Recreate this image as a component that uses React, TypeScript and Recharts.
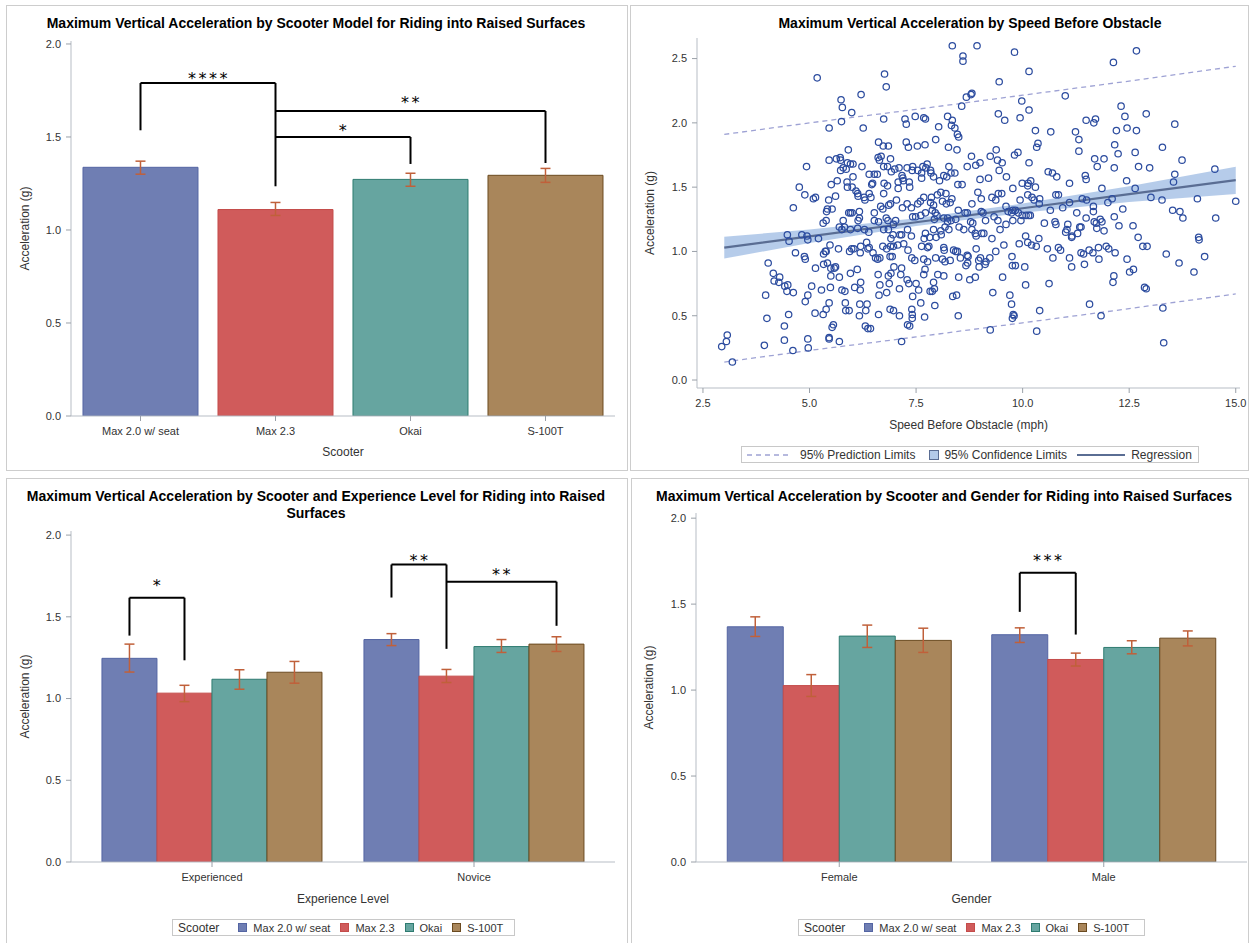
import React from "react";
import {
  BarChart,
  Bar,
  Cell,
  ComposedChart,
  XAxis,
  YAxis,
  Scatter,
  Line,
  Area,
  ErrorBar,
  ReferenceLine,
  ReferenceDot,
} from "recharts";

const FONT = '"Liberation Sans", Arial, sans-serif';
const AXIS = "#B7BDC5";
const TICK = "#9AA0A8";
const TEXT = "#333333";
const WHISKER = "#C0603A";

const scooters = ["Max 2.0 w/ seat", "Max 2.3", "Okai", "S-100T"];
const scooterFill = ["#6F7EB3", "#D05B5B", "#66A5A0", "#A9865B"];
const scooterEdge = ["#5465A3", "#C44C4A", "#2E7B70", "#6B4A20"];

const accelTicks = [0, 0.5, 1.0, 1.5, 2.0];

// mean max vertical acceleration per scooter, with 95% CI
const modelMean = [1.337, 1.11, 1.272, 1.294];
const modelLow = [1.3, 1.078, 1.235, 1.256];
const modelHigh = [1.37, 1.148, 1.305, 1.331];

const levels = ["Experienced", "Novice"];
const levelMean = [
  [1.246, 1.033, 1.118, 1.161],
  [1.361, 1.137, 1.318, 1.333],
];
const levelLow = [
  [1.162, 0.981, 1.057, 1.094],
  [1.324, 1.098, 1.282, 1.288],
];
const levelHigh = [
  [1.333, 1.081, 1.176, 1.227],
  [1.397, 1.178, 1.361, 1.378],
];

const genders = ["Female", "Male"];
const genderMean = [
  [1.368, 1.026, 1.314, 1.289],
  [1.322, 1.178, 1.248, 1.302],
];
const genderLow = [
  [1.312, 0.963, 1.248, 1.219],
  [1.277, 1.14, 1.211, 1.257],
];
const genderHigh = [
  [1.426, 1.09, 1.378, 1.36],
  [1.362, 1.215, 1.287, 1.344],
];

// significance brackets: [group, scooter] endpoints
type Bracket = {
  from: [number, number];
  to: [number, number];
  y: number;
  fromDrop?: number;
  toDrop?: number;
  stars: string;
  starsY: number;
};

const modelBrackets: Bracket[] = [
  { from: [0, 0], to: [1, 0], y: 1.79, fromDrop: 1.536, toDrop: 1.235, stars: "****", starsY: 1.833 },
  { from: [1, 0], to: [3, 0], y: 1.64, toDrop: 1.36, stars: "**", starsY: 1.704 },
  { from: [1, 0], to: [2, 0], y: 1.5, toDrop: 1.355, stars: "*", starsY: 1.553 },
];

const levelBrackets: Bracket[] = [
  { from: [0, 0], to: [0, 1], y: 1.617, fromDrop: 1.385, toDrop: 1.234, stars: "*", starsY: 1.715 },
  { from: [1, 0], to: [1, 1], y: 1.82, fromDrop: 1.618, toDrop: 1.304, stars: "**", starsY: 1.868 },
  { from: [1, 1], to: [1, 3], y: 1.715, toDrop: 1.445, stars: "**", starsY: 1.782 },
];

const genderBrackets: Bracket[] = [
  { from: [1, 0], to: [1, 1], y: 1.682, fromDrop: 1.455, toDrop: 1.323, stars: "***", starsY: 1.773 },
];

// speed before obstacle (mph), max vertical acceleration (g)
const speedObs: [number, number][] = [
  [8.35, 2.6], [8.93, 2.6], [8.6, 2.52], [8.6, 2.48], [9.81, 2.55], [12.67, 2.56], [12.13, 2.47], [10.15, 2.4],
  [6.76, 2.38], [5.18, 2.35], [6.8, 2.28], [9.45, 2.32], [11.0, 2.21], [6.21, 2.22], [5.74, 2.18], [8.79, 2.22],
  [8.81, 2.23], [8.68, 2.2], [8.57, 2.13], [12.31, 2.13], [5.77, 2.12], [9.98, 2.17], [10.15, 2.1], [5.99, 2.08],
  [12.9, 2.07], [9.43, 2.07], [12.4, 2.05], [9.94, 2.04], [9.58, 2.02], [5.75, 2.01], [6.74, 2.03], [8.24, 2.05],
  [7.48, 2.05], [7.24, 2.03], [7.27, 1.99], [7.68, 2.04], [7.72, 2.03], [11.49, 2.02], [11.71, 2.03], [11.67, 2.0],
  [12.45, 1.96], [12.67, 1.94], [12.2, 1.94], [13.57, 1.99], [11.24, 1.93], [10.66, 1.93], [10.3, 1.94], [8.35, 2.02],
  [8.33, 1.98], [8.41, 1.96], [8.47, 1.91], [8.5, 1.89], [8.03, 1.97], [6.26, 1.96], [5.46, 1.96],
  [6.62, 1.85], [6.73, 1.82], [6.85, 1.82], [7.27, 1.85], [7.32, 1.81], [7.53, 1.82], [7.71, 1.83], [7.96, 1.87],
  [8.26, 1.81], [11.32, 1.87], [10.33, 1.81], [10.36, 1.84], [12.16, 1.83], [13.28, 1.81], [11.32, 1.78], [9.38, 1.79],
  [9.81, 1.75], [9.89, 1.77], [8.46, 1.79], [8.8, 1.74], [8.9, 1.67], [8.7, 1.66], [9.0, 1.69], [9.24, 1.74],
  [9.41, 1.71], [11.69, 1.72], [11.75, 1.66], [11.91, 1.72], [12.24, 1.76], [12.64, 1.77], [12.72, 1.66], [12.98, 1.65],
  [13.74, 1.71], [12.15, 1.65], [14.51, 1.64], [13.57, 1.6], [13.54, 1.54], [12.44, 1.55], [11.47, 1.59], [11.49, 1.56],
  [10.6, 1.62], [10.7, 1.61], [10.8, 1.58], [10.19, 1.55], [10.13, 1.53], [10.12, 1.51], [9.99, 1.53], [10.3, 1.5],
  [10.15, 1.69], [9.52, 1.69], [9.45, 1.63], [9.62, 1.58], [9.2, 1.57], [9.0, 1.56], [11.1, 1.53], [11.86, 1.49],
  [12.64, 1.49], [9.77, 1.49], [9.51, 1.45], [9.43, 1.45], [9.28, 1.42], [9.37, 1.4], [8.95, 1.46], [9.03, 1.41],
  [8.81, 1.37], [10.78, 1.44], [10.84, 1.44], [10.27, 1.4], [11.1, 1.38], [11.4, 1.41], [11.5, 1.4], [12.0, 1.38],
  [12.1, 1.41], [13.01, 1.42], [13.27, 1.4], [14.1, 1.41], [15.0, 1.39], [10.12, 1.44], [10.22, 1.42], [10.4, 1.41],
  [9.94, 1.4], [11.27, 1.3],
  [4.93, 1.66], [4.76, 1.5], [4.89, 1.44], [5.09, 1.41], [5.14, 1.42], [4.62, 1.34], [5.46, 1.71], [5.45, 1.4],
  [5.42, 1.33], [5.4, 1.31], [5.51, 1.52], [5.61, 1.43], [5.63, 1.72], [5.72, 1.73], [5.73, 1.71], [5.89, 1.69],
  [5.96, 1.68], [6.02, 1.68], [5.91, 1.79], [5.65, 1.55], [5.88, 1.54], [5.89, 1.5], [6.0, 1.5], [5.73, 1.63],
  [5.79, 1.65], [5.86, 1.64], [6.02, 1.58], [6.09, 1.47], [6.23, 1.66], [6.13, 1.45], [6.14, 1.43], [6.28, 1.42],
  [6.3, 1.4], [6.4, 1.6], [6.52, 1.6], [6.59, 1.6], [6.48, 1.53], [6.46, 1.52], [6.4, 1.45], [6.44, 1.42],
  [6.61, 1.73], [6.68, 1.74], [6.64, 1.71], [6.74, 1.66], [6.83, 1.66], [6.9, 1.72], [6.92, 1.62], [6.75, 1.53],
  [6.83, 1.51], [6.74, 1.45], [7.0, 1.64], [7.1, 1.65], [7.17, 1.59], [7.19, 1.57], [7.2, 1.55], [7.08, 1.54],
  [7.08, 1.49], [7.34, 1.54], [7.35, 1.5], [7.42, 1.66], [7.41, 1.63], [7.29, 1.65], [7.54, 1.63], [7.63, 1.61],
  [7.63, 1.57], [7.66, 1.66], [7.73, 1.65], [7.76, 1.68], [7.84, 1.63], [7.85, 1.61], [7.91, 1.58], [8.05, 1.55],
  [8.15, 1.59], [8.22, 1.58], [8.27, 1.66], [8.32, 1.61], [8.41, 1.61], [8.48, 1.52], [8.58, 1.52], [8.2, 1.45],
  [8.08, 1.46], [8.0, 1.44], [7.86, 1.42], [7.68, 1.42], [7.6, 1.39], [7.54, 1.37], [7.84, 1.38], [7.91, 1.36],
  [8.12, 1.39], [8.21, 1.37], [8.3, 1.38], [8.34, 1.41], [7.04, 1.4], [6.9, 1.37], [6.86, 1.36], [6.67, 1.35],
  [6.72, 1.33], [7.18, 1.34], [7.29, 1.37], [7.39, 1.34],
  [5.39, 1.24], [5.32, 1.22], [5.53, 1.33], [5.79, 1.24], [5.82, 1.19], [5.7, 1.19], [5.76, 1.17], [5.92, 1.3],
  [5.96, 1.3], [6.0, 1.3], [6.17, 1.31], [6.14, 1.24], [6.13, 1.18], [5.96, 1.17], [6.17, 1.26], [6.29, 1.17],
  [6.39, 1.15], [6.52, 1.3], [6.52, 1.24], [6.62, 1.23], [6.8, 1.26], [6.84, 1.24], [6.74, 1.17], [6.85, 1.17],
  [6.97, 1.21], [7.02, 1.24], [6.96, 1.13], [6.91, 1.1], [7.12, 1.13], [7.16, 1.13], [7.3, 1.17], [7.39, 1.12],
  [7.42, 1.27], [7.49, 1.27], [7.61, 1.28], [7.72, 1.3], [7.88, 1.32], [7.95, 1.3], [7.93, 1.25], [7.99, 1.28],
  [8.15, 1.26], [8.24, 1.26], [8.24, 1.23], [8.32, 1.24], [8.43, 1.25], [8.18, 1.19], [8.27, 1.17], [8.08, 1.16],
  [7.91, 1.17], [7.72, 1.14], [7.69, 1.1], [7.82, 1.11], [7.97, 1.11], [8.09, 1.13], [7.8, 1.04], [7.77, 1.03],
  [7.63, 1.04], [8.15, 1.03], [8.16, 1.01], [8.38, 1.01], [8.43, 1.0], [8.47, 1.0], [8.51, 1.19], [8.62, 1.17],
  [8.78, 1.23], [8.83, 1.22], [8.81, 1.17], [8.89, 1.14], [8.91, 1.12], [9.04, 1.14], [9.09, 1.14], [9.13, 1.24],
  [9.03, 1.31], [9.07, 1.3], [8.65, 1.3], [8.7, 1.3], [8.49, 1.32], [9.28, 1.1], [9.33, 1.27], [9.42, 1.24],
  [9.47, 1.17], [9.61, 1.21], [9.77, 1.24], [9.61, 1.35], [9.66, 1.31], [9.74, 1.3], [9.77, 1.32], [9.83, 1.32],
  [9.9, 1.3], [9.99, 1.28], [10.08, 1.28], [10.14, 1.28], [10.18, 1.28], [9.96, 1.24], [10.39, 1.37], [10.65, 1.32],
  [10.51, 1.22], [10.76, 1.23], [10.78, 1.21], [10.94, 1.34], [11.04, 1.17], [11.01, 1.15], [11.06, 1.21], [11.15, 1.11],
  [11.16, 1.12], [11.29, 1.14], [11.34, 1.19], [11.37, 1.19], [11.49, 1.26], [11.66, 1.35], [11.66, 1.31], [11.68, 1.23],
  [11.73, 1.22], [11.74, 1.18], [11.82, 1.25], [11.86, 1.23], [11.91, 1.16], [12.15, 1.27], [12.26, 1.2], [12.35, 1.33],
  [12.59, 1.2], [12.71, 1.11], [12.82, 1.04], [12.92, 1.04], [13.52, 1.32], [13.69, 1.31], [13.76, 1.26], [14.53, 1.26],
  [14.13, 1.11], [14.14, 1.09],
  [4.48, 1.13], [4.52, 1.08], [4.82, 1.13], [4.94, 1.12], [4.96, 1.09], [4.67, 0.99], [4.88, 0.96], [4.9, 0.94],
  [5.21, 1.1], [5.33, 0.98], [5.37, 1.0], [5.39, 1.0], [5.48, 1.05], [5.68, 1.02], [5.94, 1.0], [5.99, 1.02],
  [6.04, 1.02], [6.19, 0.99], [6.2, 1.04], [6.34, 1.07], [6.37, 1.02], [6.4, 1.03], [6.49, 0.99], [6.55, 0.95],
  [6.6, 0.94], [6.65, 0.95], [6.72, 1.04], [6.81, 1.02], [6.9, 1.04], [6.97, 1.04], [6.89, 0.96], [6.94, 0.96],
  [7.07, 1.05], [7.21, 1.06], [7.31, 1.01], [7.4, 0.95], [7.47, 0.93], [7.68, 0.94], [7.77, 0.92], [7.96, 0.95],
  [8.12, 0.94], [8.18, 0.92], [8.3, 0.93], [8.54, 0.95], [8.7, 0.97], [8.72, 0.96], [8.91, 1.02], [8.97, 0.93],
  [9.01, 0.95], [8.98, 0.88], [9.12, 0.9], [9.14, 0.92], [9.23, 0.95], [9.37, 1.0], [9.56, 1.05], [9.75, 0.96],
  [9.92, 1.06], [10.07, 1.12], [10.12, 1.07], [10.21, 1.05], [10.32, 1.04], [10.38, 1.1], [10.58, 1.02], [10.71, 0.95],
  [10.84, 1.03], [10.89, 1.01], [11.1, 0.95], [11.15, 0.88], [11.37, 0.99], [11.43, 0.98], [11.56, 1.01], [11.65, 0.99],
  [11.78, 1.03], [11.79, 0.94], [11.45, 0.9], [11.96, 1.04], [12.02, 1.02], [12.17, 0.99], [12.45, 0.94], [12.6, 0.86],
  [12.51, 0.84], [12.86, 0.72], [13.37, 0.98], [13.67, 0.91], [14.02, 0.84], [14.27, 0.96], [12.14, 0.81], [12.12, 0.76],
  [4.03, 0.91], [4.15, 0.83], [4.17, 0.77], [4.3, 0.8], [4.28, 0.76], [4.42, 0.73], [4.49, 0.74], [4.47, 0.69],
  [4.62, 0.68], [3.97, 0.66], [4.0, 0.48], [4.51, 0.51], [4.9, 0.61], [5.05, 0.73], [4.96, 0.66], [5.14, 0.87],
  [5.28, 0.7], [5.33, 0.9], [5.42, 0.91], [5.5, 0.81], [5.49, 0.72], [5.46, 0.6], [5.39, 0.55], [5.32, 0.51],
  [5.13, 0.52], [5.53, 0.41], [5.5, 0.87], [5.58, 0.87], [5.61, 0.88], [5.7, 0.8], [5.76, 0.7], [5.83, 0.69],
  [5.84, 0.6], [5.85, 0.54], [5.93, 0.54], [5.96, 0.83], [6.12, 0.86], [6.06, 0.72], [6.19, 0.7], [6.18, 0.59],
  [6.2, 0.76], [6.35, 0.59], [6.32, 0.54], [6.17, 0.5], [6.31, 0.42], [6.37, 0.4], [6.43, 0.4], [6.61, 0.82],
  [6.65, 0.74], [6.63, 0.66], [6.62, 0.51], [6.81, 0.68], [6.87, 0.75], [6.91, 0.83], [6.85, 0.81], [6.89, 0.55],
  [6.97, 0.54], [7.11, 0.5], [7.11, 0.71], [7.14, 0.82], [7.16, 0.87], [6.98, 0.88], [7.16, 0.3], [7.29, 0.78],
  [7.33, 0.75], [7.4, 0.55], [7.41, 0.51], [7.41, 0.48], [7.42, 0.65], [7.5, 0.75], [7.56, 0.7], [7.71, 0.86],
  [7.68, 0.82], [7.61, 0.6], [7.7, 0.49], [7.3, 0.43], [7.83, 0.69], [7.88, 0.69], [7.93, 0.71], [7.91, 0.76],
  [7.94, 0.58], [8.01, 0.82], [8.15, 0.81], [8.36, 0.65], [8.45, 0.66], [8.5, 0.8], [8.49, 0.5], [8.67, 0.89],
  [8.71, 0.91], [8.76, 0.78], [8.89, 0.8], [9.3, 0.68], [9.53, 0.8], [9.7, 0.66], [9.74, 0.59], [9.78, 0.51],
  [9.8, 0.5], [9.76, 0.48], [9.76, 0.89], [9.83, 0.89], [10.05, 0.88], [10.07, 0.74], [10.4, 0.54], [10.33, 0.38],
  [9.24, 0.39], [10.62, 0.75], [11.57, 0.59], [11.84, 0.5], [13.29, 0.56], [13.31, 0.29], [12.9, 0.71],
  [2.94, 0.26], [3.05, 0.3], [3.07, 0.35], [3.19, 0.14], [3.94, 0.27], [4.41, 0.31], [4.61, 0.23], [4.97, 0.25],
  [4.96, 0.32], [4.41, 0.42], [5.46, 0.32], [5.46, 0.33], [5.7, 0.3], [5.56, 0.43], [7.35, 0.42],
];

// fitted regression with confidence and prediction limits
const fitSpeed = [3, 5, 7.5, 10, 12.5, 15];
const fitAccel = [1.03, 1.117, 1.227, 1.336, 1.446, 1.555];
const ciLower = [0.945, 1.065, 1.197, 1.3, 1.385, 1.447];
const ciUpper = [1.114, 1.17, 1.258, 1.372, 1.508, 1.658];
const piLower = [0.14, 0.23, 0.335, 0.445, 0.555, 0.67];
const piUpper = [1.91, 2.0, 2.105, 2.215, 2.325, 2.44];

const speedTicks = [2.5, 5, 7.5, 10, 12.5, 15];
const scatterTicks = [0, 0.5, 1.0, 1.5, 2.0, 2.5];

const fmt1 = (v: number) => v.toFixed(1);
const tickFont = { fontSize: 11, fill: TEXT };
const labelFont = { fontSize: 12, fill: TEXT, textAnchor: "middle" as const };

const Stars = (props: any) => {
  const vb = props.viewBox || { x: 0, y: 0 };
  const cx = vb.x + (vb.width || 0) / 2;
  const cy = vb.y + (vb.height || 0) / 2;
  return (
    <text
      x={cx + 1}
      y={cy + 9}
      textAnchor="middle"
      fontFamily="DejaVu Sans"
      fontSize={16}
      letterSpacing={2.5}
      fill="#000"
    >
      {props.value}
    </text>
  );
};

function bracketMarks(list: Bracket[], place: (p: [number, number]) => number, id: string) {
  const line = { xAxisId: "pos", stroke: "#000", strokeWidth: 2, ifOverflow: "visible" as const };
  return list.flatMap((b, i) => {
    const x1 = place(b.from);
    const x2 = place(b.to);
    const out = [
      <ReferenceLine key={`${id}${i}h`} {...line} segment={[{ x: x1, y: b.y }, { x: x2, y: b.y }]} />,
    ];
    if (b.fromDrop != null)
      out.push(<ReferenceLine key={`${id}${i}a`} {...line} segment={[{ x: x1, y: b.fromDrop }, { x: x1, y: b.y }]} />);
    if (b.toDrop != null)
      out.push(<ReferenceLine key={`${id}${i}b`} {...line} segment={[{ x: x2, y: b.toDrop }, { x: x2, y: b.y }]} />);
    out.push(
      <ReferenceDot
        key={`${id}${i}s`}
        xAxisId="pos"
        x={(x1 + x2) / 2}
        y={b.starsY}
        r={0}
        fill="none"
        stroke="none"
        ifOverflow="visible"
        label={<Stars value={b.stars} />}
      />
    );
    return out;
  });
}

// frame axes drawn on top and right of each plot
const frameAxes = (kind: "bar" | "num") => [
  <XAxis
    key="ft"
    xAxisId="top"
    orientation="top"
    type={kind === "bar" ? "category" : "number"}
    domain={kind === "bar" ? undefined : [0, 1]}
    height={0}
    tick={false}
    tickLine={false}
    axisLine={{ stroke: AXIS }}
  />,
  <YAxis
    key="fr"
    yAxisId="right"
    orientation="right"
    domain={[0, 1]}
    width={0}
    tick={false}
    tickLine={false}
    axisLine={{ stroke: AXIS }}
  />,
];

// linear position axis over the category bands, used to place brackets on individual bars.
// "slot" is not in the rows, so the axis keeps its own [0, count] domain.
const positionAxis = (count: number, pad: number) => (
  <XAxis
    xAxisId="pos"
    dataKey="slot"
    type="number"
    scale="linear"
    domain={[0, count]}
    allowDataOverflow
    hide
    padding={{ left: pad, right: pad }}
  />
);

function ModelChart() {
  const rows = scooters.map((name, i) => ({
    name,
    mean: modelMean[i],
    err: [modelMean[i] - modelLow[i], modelHigh[i] - modelMean[i]],
  }));
  return (
    <BarChart
      width={628}
      height={470}
      data={rows}
      margin={{ top: 41, right: 13, left: 16, bottom: 12 }}
      barCategoryGap="7.4%"
    >
      <XAxis
        dataKey="name"
        interval={0}
        padding={{ left: 2, right: 2 }}
        height={42}
        tick={tickFont}
        tickSize={5}
        tickMargin={6}
        tickLine={{ stroke: TICK }}
        axisLine={{ stroke: AXIS }}
        label={{ value: "Scooter", position: "insideBottom", offset: 2, style: labelFont }}
      />
      {positionAxis(4, 2)}
      <YAxis
        domain={[0, 2.016]}
        ticks={accelTicks}
        allowDataOverflow
        interval={0}
        tickFormatter={fmt1}
        width={55}
        tick={tickFont}
        tickSize={5}
        tickMargin={5}
        tickLine={{ stroke: TICK }}
        axisLine={{ stroke: AXIS }}
        label={{ value: "Acceleration (g)", angle: -90, position: "insideLeft", offset: 9, style: labelFont }}
      />
      {frameAxes("bar")}
      <Bar dataKey="mean" isAnimationActive={false} strokeWidth={1}>
        {rows.map((r, i) => (
          <Cell key={r.name} fill={scooterFill[i]} stroke={scooterEdge[i]} />
        ))}
        <ErrorBar dataKey="err" width={5} stroke={WHISKER} strokeWidth={1.5} />
      </Bar>
      {bracketMarks(modelBrackets, (p) => p[0] + 0.5, "m")}
    </BarChart>
  );
}

type GroupProps = {
  width: number;
  groups: string[];
  mean: number[][];
  low: number[][];
  high: number[][];
  brackets: Bracket[];
  gap: number;
  pad: number;
  yMax: number;
  title: string;
  margin: { top: number; right: number; left: number; bottom: number };
  labelOffset: number;
};

function GroupedChart(p: GroupProps) {
  const rows = p.groups.map((g, gi) => {
    const row: Record<string, any> = { group: g };
    scooters.forEach((_, k) => {
      row[`s${k}`] = p.mean[gi][k];
      row[`e${k}`] = [p.mean[gi][k] - p.low[gi][k], p.high[gi][k] - p.mean[gi][k]];
    });
    return row;
  });
  const barW = (1 - 2 * p.gap) / scooters.length;
  const place = ([g, k]: [number, number]) => g + p.gap + barW * (k + 0.5);
  return (
    <BarChart
      width={p.width}
      height={473}
      data={rows}
      margin={p.margin}
      barCategoryGap={`${p.gap * 100}%`}
      barGap={0}
    >
      <XAxis
        dataKey="group"
        interval={0}
        padding={{ left: p.pad, right: p.pad }}
        height={42}
        tick={tickFont}
        tickSize={5}
        tickMargin={6}
        tickLine={{ stroke: TICK }}
        axisLine={{ stroke: AXIS }}
        label={{ value: p.title, position: "insideBottom", offset: 1, style: labelFont }}
      />
      {positionAxis(p.groups.length, p.pad)}
      <YAxis
        domain={[0, p.yMax]}
        ticks={accelTicks}
        allowDataOverflow
        interval={0}
        tickFormatter={fmt1}
        width={55}
        tick={tickFont}
        tickSize={5}
        tickMargin={5}
        tickLine={{ stroke: TICK }}
        axisLine={{ stroke: AXIS }}
        label={{ value: "Acceleration (g)", angle: -90, position: "insideLeft", offset: p.labelOffset, style: labelFont }}
      />
      {frameAxes("bar")}
      {scooters.map((s, k) => (
        <Bar
          key={s}
          dataKey={`s${k}`}
          name={s}
          fill={scooterFill[k]}
          stroke={scooterEdge[k]}
          strokeWidth={1}
          isAnimationActive={false}
        >
          <ErrorBar dataKey={`e${k}`} width={5} stroke={WHISKER} strokeWidth={1.5} />
        </Bar>
      ))}
      {bracketMarks(p.brackets, place, p.title)}
    </BarChart>
  );
}

const Ring = (props: any) => (
  <circle cx={props.cx} cy={props.cy} r={3.2} fill="none" stroke="#2C4C9F" strokeWidth={1.25} />
);

function SpeedChart() {
  const fitRows = fitSpeed.map((x, i) => ({
    x,
    fit: fitAccel[i],
    ci: [ciLower[i], ciUpper[i]],
    piLo: piLower[i],
    piHi: piUpper[i],
  }));
  const obs = speedObs.map(([x, y]) => ({ x, y }));
  return (
    <ComposedChart width={623} height={470} data={fitRows} margin={{ top: 38, right: 11, left: 13, bottom: 34 }}>
      <XAxis
        type="number"
        dataKey="x"
        domain={[2.36, 15.1]}
        ticks={speedTicks}
        allowDataOverflow
        interval={0}
        tickFormatter={fmt1}
        height={48}
        tick={tickFont}
        tickSize={5}
        tickMargin={6}
        tickLine={{ stroke: TICK }}
        axisLine={{ stroke: AXIS }}
        label={{ value: "Speed Before Obstacle (mph)", position: "insideBottom", offset: 7, style: labelFont }}
      />
      <YAxis
        type="number"
        domain={[-0.062, 2.66]}
        ticks={scatterTicks}
        allowDataOverflow
        interval={0}
        tickFormatter={fmt1}
        width={56}
        tick={tickFont}
        tickSize={5}
        tickMargin={5}
        tickLine={{ stroke: TICK }}
        axisLine={{ stroke: AXIS }}
        label={{ value: "Acceleration (g)", angle: -90, position: "insideLeft", offset: 9, style: labelFont }}
      />
      {frameAxes("num")}
      <Area type="linear" dataKey="ci" fill="#9DBBE3" fillOpacity={0.75} stroke="none" isAnimationActive={false} />
      <Scatter data={obs} dataKey="y" shape={Ring} isAnimationActive={false} />
      <Line type="linear" dataKey="piLo" stroke="#9EA2D4" strokeWidth={1.3} strokeDasharray="5 4" dot={false} activeDot={false} isAnimationActive={false} />
      <Line type="linear" dataKey="piHi" stroke="#9EA2D4" strokeWidth={1.3} strokeDasharray="5 4" dot={false} activeDot={false} isAnimationActive={false} />
      <Line type="linear" dataKey="fit" stroke="#5A6D93" strokeWidth={2.2} dot={false} activeDot={false} isAnimationActive={false} />
    </ComposedChart>
  );
}

function ScooterLegend({ left, top, width }: { left: number; top: number; width: number }) {
  return (
    <div
      style={{
        position: "absolute",
        left,
        top,
        width,
        height: 17,
        boxSizing: "border-box",
        border: "1px solid #C8C8C8",
        display: "flex",
        alignItems: "center",
        fontSize: 11,
        color: TEXT,
        whiteSpace: "nowrap",
      }}
    >
      <span style={{ fontSize: 12, marginLeft: 5, marginRight: 19 }}>Scooter</span>
      {scooters.map((s, k) => (
        <span key={s} style={{ display: "flex", alignItems: "center", marginRight: 10 }}>
          <span
            style={{
              width: 9,
              height: 9,
              boxSizing: "border-box",
              background: scooterFill[k],
              border: `1px solid ${scooterEdge[k]}`,
              marginRight: 6,
            }}
          />
          {s}
        </span>
      ))}
    </div>
  );
}

function FitLegend() {
  return (
    <div
      style={{
        position: "absolute",
        left: 741,
        top: 446,
        width: 458,
        height: 17,
        boxSizing: "border-box",
        border: "1px solid #C8C8C8",
        display: "flex",
        alignItems: "center",
        fontSize: 12,
        color: TEXT,
        whiteSpace: "nowrap",
      }}
    >
      <svg width={44} height={10} style={{ marginLeft: 5 }}>
        <line x1={0} y1={5} x2={44} y2={5} stroke="#9EA2D4" strokeWidth={1.3} strokeDasharray="5 4" />
      </svg>
      <span style={{ marginLeft: 9 }}>95% Prediction Limits</span>
      <svg width={10} height={10} style={{ marginLeft: 14 }}>
        <rect x={0.5} y={0.5} width={9} height={9} fill="#B3CAE9" stroke="#5A6D93" />
      </svg>
      <span style={{ marginLeft: 5 }}>95% Confidence Limits</span>
      <svg width={48} height={10} style={{ marginLeft: 10 }}>
        <line x1={0} y1={5} x2={48} y2={5} stroke="#5A6D93" strokeWidth={2.2} />
      </svg>
      <span style={{ marginLeft: 6 }}>Regression</span>
    </div>
  );
}

const titleStyle = (cx: number, top: number): React.CSSProperties => ({
  position: "absolute",
  left: cx - 320,
  width: 640,
  top,
  textAlign: "center",
  fontWeight: "bold",
  fontSize: 14,
  lineHeight: "17px",
  color: "#000",
  whiteSpace: "nowrap",
});

const panelStyle = (left: number, top: number, width: number, height: number): React.CSSProperties => ({
  position: "absolute",
  left,
  top,
  width,
  height,
  boxSizing: "border-box",
  border: "1px solid #CDCDCD",
});

export default function App() {
  return (
    <div
      style={{
        position: "absolute",
        left: 0,
        top: 0,
        width: 1251,
        height: 943,
        overflow: "hidden",
        background: "#fff",
        fontFamily: FONT,
      }}
    >
      <div style={panelStyle(6, 5, 622, 466)} />
      <div style={panelStyle(630, 5, 619, 466)} />
      <div style={panelStyle(6, 478, 622, 470)} />
      <div style={panelStyle(631, 478, 618, 470)} />

      <div style={titleStyle(316, 15)}>
        Maximum Vertical Acceleration by Scooter Model for Riding into Raised Surfaces
      </div>
      <div style={titleStyle(970, 15)}>Maximum Vertical Acceleration by Speed Before Obstacle</div>
      <div style={titleStyle(316, 488)}>
        Maximum Vertical Acceleration by Scooter and Experience Level for Riding into Raised
        <br />
        Surfaces
      </div>
      <div style={titleStyle(944, 488)}>
        Maximum Vertical Acceleration by Scooter and Gender for Riding into Raised Surfaces
      </div>

      <div style={{ position: "absolute", left: 0, top: 0 }}>
        <ModelChart />
      </div>
      <div style={{ position: "absolute", left: 628, top: 0 }}>
        <SpeedChart />
      </div>
      <div style={{ position: "absolute", left: 0, top: 470 }}>
        <GroupedChart
          width={628}
          groups={levels}
          mean={levelMean}
          low={levelLow}
          high={levelHigh}
          brackets={levelBrackets}
          gap={0.08}
          pad={10}
          yMax={2.025}
          title="Experience Level"
          margin={{ top: 61, right: 13, left: 16, bottom: 39 }}
          labelOffset={9}
        />
      </div>
      <div style={{ position: "absolute", left: 628, top: 470 }}>
        <GroupedChart
          width={623}
          groups={genders}
          mean={genderMean}
          low={genderLow}
          high={genderHigh}
          brackets={genderBrackets}
          gap={0.0766}
          pad={11}
          yMax={2.03}
          title="Gender"
          margin={{ top: 43, right: 4, left: 13, bottom: 39 }}
          labelOffset={8}
        />
      </div>

      <FitLegend />
      <ScooterLegend left={172} top={919} width={343} />
      <ScooterLegend left={798} top={919} width={347} />
    </div>
  );
}
